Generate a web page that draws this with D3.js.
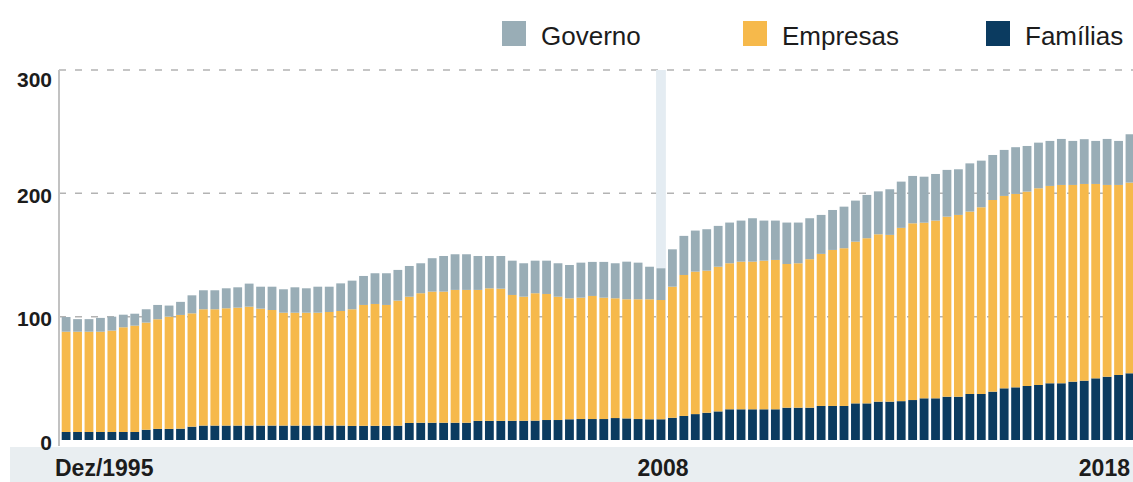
<!DOCTYPE html>
<html>
<head>
<meta charset="utf-8">
<script src="https://cdn.jsdelivr.net/npm/d3@7/dist/d3.min.js"></script>
<style>
  html, body { margin: 0; padding: 0; background: #fff; }
  svg { display: block; }
</style>
</head>
<body>
<div id="chart"></div>
<script>
// ---- Data (% values, quarterly from Dez/1995) ----
const seriesNames = ["Famílias", "Empresas", "Governo"];
const familias = [6.5,6.5,6.5,6.5,6.5,6.5,6.5,8.3,9,9,9.2,10.8,11.7,11.7,11.7,11.7,11.7,11.7,11.7,11.7,
  11.7,11.7,11.7,11.7,11.7,11.4,11.5,11.5,11.5,11.6,13.8,14,14,14,14,14,15.5,15.5,15.5,15.6,
  15.6,15.7,16.2,16.2,16.8,17,17,17,17.8,17.5,17,16.8,16.8,18,19.5,21,22.1,23.2,24.9,24.9,
  24.9,24.9,24.9,26.2,26.2,26.2,27.6,27.6,27.6,29.7,29.7,31.1,31.1,31.5,32.4,33.8,33.8,35.1,35.1,37.3,
  37.3,39.2,41.9,42.7,43.8,44.6,46,46,47.3,48.1,50,51.3,52.7,54.1];
const empresas = [81.3,81.3,81.3,81.3,82.2,84.9,86.2,86.9,88.9,91,92.2,91.9,94.3,94.3,95.1,95.6,96.4,94.8,93.7,91.5,
  91.5,91.5,91.5,92.1,92.9,94.6,98,98.8,98,101.4,102.4,105,106.3,106.3,107.7,107.7,106.2,107.5,107.2,102,
  100.6,103.3,102.2,100,98.1,98.4,99.8,98.4,97.1,96.6,97.1,97.3,96.7,106.3,114.3,115.5,115.2,117.3,118.4,119.7,
  119.7,120.5,121.1,116.5,117.1,120.4,123.3,126.5,127.9,131.1,133.9,135.7,135.2,140.5,143.3,142.4,144.1,146,147.4,147.9,
  151.4,155.4,156,156.8,157.6,159.5,160,160.8,159.5,159.5,157.6,155.5,154.1,154.6];
const governo = [11.9,10.2,10.2,11.2,11.3,10.2,9.7,10.8,11.6,9,10.6,14.6,15.4,15.4,16.2,16.5,18.7,17.8,18.9,19,
  20.6,19.8,21.1,20.5,22.4,23.2,23.5,24.9,25.7,24.9,24.9,24.3,27.1,28.9,28.9,28.9,27.5,26.2,26.5,27.8,
  27.1,26.4,27,27.1,27,28.4,27.6,29,28.4,30.5,29.7,26.4,25.7,30.3,31.7,33.3,33.6,33.1,33,33.3,
  35.2,32.5,31.9,33.6,33,33.2,31.6,32.4,33.7,33.3,35.1,34.8,37,37.5,38.4,37.3,37.8,37.9,37,39.1,
  37.8,36.5,37.3,37.9,37,37,36.5,37.3,35.7,36.3,34.9,37.3,35.7,39.2];
// Quarterly periods starting Dez/1995
const categories = d3.range(familias.length).map(i => {
  const q = 3 + i; // 1995 Q4 = quarter index 3 of 1995
  return (1995 + Math.floor(q / 4)) + "T" + (q % 4 + 1);
});
const yTicks = [0, 100, 200, 300];
const xLabels = [
  {idx: 0, text: "Dez/1995", anchor: "start"},
  {idx: 52, text: "2008", anchor: "middle"},
  {idx: familias.length - 1, text: "2018", anchor: "end"}
];
const highlightIdx = 52;
const colors = {"Famílias": "#0b3b60", "Empresas": "#f6b94b", "Governo": "#99adb6"};
const legendOrder = ["Governo", "Empresas", "Famílias"];

// ---- Chart ----
const W = 1133, H = 482;
const svg = d3.select("#chart").append("svg").attr("width", W).attr("height", H);

const rows = categories.map((c, i) => ({cat: c, "Famílias": familias[i], "Empresas": empresas[i], "Governo": governo[i]}));
const stack = d3.stack().keys(seriesNames)(rows);

const x = d3.scaleBand().domain(categories).range([61.7, 1134.4]).paddingInner(0.23).paddingOuter(0);
const y = d3.scaleLinear().domain([0, 300]).range([440, 70]);

// bottom band
svg.append("rect").attr("x", 10).attr("y", 447).attr("width", W - 10).attr("height", H - 447).attr("fill", "#e9eef1");

// gridlines
svg.append("g").selectAll("line").data(yTicks.filter(d => d > 0)).join("line")
  .attr("x1", 59).attr("x2", W)
  .attr("y1", d => y(d)).attr("y2", d => y(d))
  .attr("stroke", "#b3b3b3").attr("stroke-width", 1.5).attr("stroke-dasharray", "7,9");

// 2008 highlight band
svg.append("rect")
  .attr("x", x(categories[highlightIdx]) - 0.5).attr("width", x.bandwidth() + 1)
  .attr("y", y(300)).attr("height", y(0) - y(300))
  .attr("fill", "#e4ecf2");

// bars
svg.append("g").selectAll("g").data(stack).join("g")
  .attr("fill", d => colors[d.key])
  .selectAll("rect").data(d => d).join("rect")
  .attr("x", d => x(d.data.cat))
  .attr("width", x.bandwidth())
  .attr("y", d => y(d[1]))
  .attr("height", d => y(d[0]) - y(d[1]));

// y axis line
svg.append("line").attr("x1", 59).attr("x2", 59).attr("y1", 70).attr("y2", 446)
  .attr("stroke", "#c2c2c2").attr("stroke-width", 2);

// y labels
svg.append("g").selectAll("text").data(yTicks).join("text")
  .attr("x", 52)
  .attr("y", d => d === 300 ? 87 : y(d) + 9.5)
  .attr("text-anchor", "end")
  .attr("font-family", "Liberation Sans, Arial, sans-serif")
  .attr("font-weight", "bold").attr("font-size", 21).attr("fill", "#1c1c1c")
  .text(d => d);

// x labels
svg.append("g").selectAll("text").data(xLabels).join("text")
  .attr("x", d => d.anchor === "start" ? 55 : d.anchor === "end" ? 1130 : x(categories[d.idx]) + x.bandwidth() / 2 + 2)
  .attr("y", 476)
  .attr("text-anchor", d => d.anchor)
  .attr("font-family", "Liberation Sans, Arial, sans-serif")
  .attr("font-weight", "bold").attr("font-size", 23).attr("fill", "#1c1c1c")
  .text(d => d.text);

// legend
const legendX = {"Governo": 502, "Empresas": 743, "Famílias": 986};
const lg = svg.append("g").selectAll("g").data(legendOrder).join("g")
  .attr("transform", d => `translate(${legendX[d]},21)`);
lg.append("rect").attr("width", 24).attr("height", 25).attr("fill", d => colors[d]);
lg.append("text").attr("x", 39).attr("y", 24)
  .attr("font-family", "Liberation Sans, Arial, sans-serif")
  .attr("font-size", 26).attr("fill", "#1c1c1c")
  .text(d => d);
</script>
</body>
</html>
